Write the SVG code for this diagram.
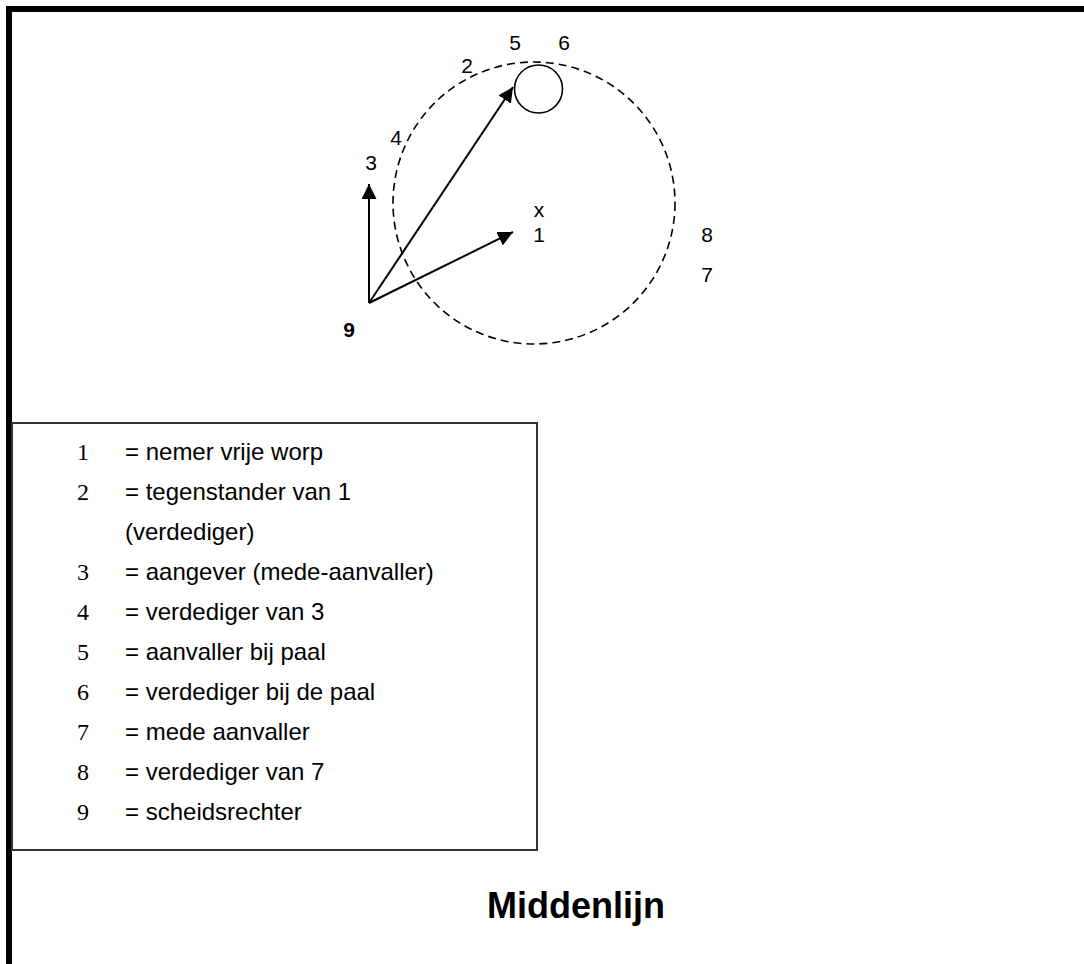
<svg xmlns="http://www.w3.org/2000/svg" width="1084" height="964" viewBox="0 0 1084 964">
<defs>
<marker id="ah" viewBox="0 0 10 10" refX="10" refY="5" markerWidth="7.5" markerHeight="7.5" markerUnits="strokeWidth" orient="auto">
<path d="M0,0 L10,5 L0,10 z" fill="#000"/>
</marker>
<style>
.lbl{font-family:"Liberation Sans",Arial,sans-serif;font-size:21px;fill:#000}
.num{font-family:"Liberation Serif","Times New Roman",serif;font-size:24px;fill:#000}
.txt{font-family:"Liberation Sans",Arial,sans-serif;font-size:24px;fill:#000}
.arrow{stroke:#000;stroke-width:2;fill:none;marker-end:url(#ah)}
</style>
</defs>
<rect width="1084" height="964" fill="#fff"/>
<path d="M9,964 V9 H1084" fill="none" stroke="#000" stroke-width="6"/>
<g id="field">
<circle cx="534" cy="203" r="141" fill="none" stroke="#000" stroke-width="1.6" stroke-dasharray="8,5"/>
</g>
<g id="post">
<circle cx="538.5" cy="89" r="24" fill="none" stroke="#000" stroke-width="1.6"/>
</g>
<g id="connectors">
<line class="arrow" x1="369" y1="303" x2="369" y2="184"/>
<line class="arrow" x1="369" y1="303" x2="513" y2="232"/>
<line class="arrow" x1="369" y1="303" x2="513" y2="87"/>
</g>
<g id="labels">
<text class="lbl" x="467" y="73" text-anchor="middle">2</text>
<text class="lbl" x="515" y="50" text-anchor="middle">5</text>
<text class="lbl" x="564" y="50" text-anchor="middle">6</text>
<text class="lbl" x="396" y="145" text-anchor="middle">4</text>
<text class="lbl" x="371" y="170" text-anchor="middle">3</text>
<text class="lbl" x="539" y="217" text-anchor="middle">x</text>
<text class="lbl" x="539" y="242" text-anchor="middle">1</text>
<text class="lbl" x="707" y="242" text-anchor="middle">8</text>
<text class="lbl" x="707" y="282" text-anchor="middle">7</text>
<text class="lbl" x="349" y="337" text-anchor="middle" font-weight="bold">9</text>
</g>
<g id="legend">
<rect x="12" y="423" width="525" height="427" fill="none" stroke="#333" stroke-width="2"/>
<text class="num" x="77" y="460">1</text><text class="txt" x="125" y="460">= nemer vrije worp</text>
<text class="num" x="77" y="500">2</text><text class="txt" x="125" y="500">= tegenstander van 1</text>
<text class="txt" x="125" y="540">(verdediger)</text>
<text class="num" x="77" y="580">3</text><text class="txt" x="125" y="580">= aangever (mede-aanvaller)</text>
<text class="num" x="77" y="620">4</text><text class="txt" x="125" y="620">= verdediger van 3</text>
<text class="num" x="77" y="660">5</text><text class="txt" x="125" y="660">= aanvaller bij paal</text>
<text class="num" x="77" y="700">6</text><text class="txt" x="125" y="700">= verdediger bij de paal</text>
<text class="num" x="77" y="740">7</text><text class="txt" x="125" y="740">= mede aanvaller</text>
<text class="num" x="77" y="780">8</text><text class="txt" x="125" y="780">= verdediger van 7</text>
<text class="num" x="77" y="820">9</text><text class="txt" x="125" y="820">= scheidsrechter</text>
</g>
<g id="title">
<text x="487" y="918" font-family="'Liberation Sans',Arial,sans-serif" font-size="36" font-weight="bold">Middenlijn</text>
</g>
</svg>
